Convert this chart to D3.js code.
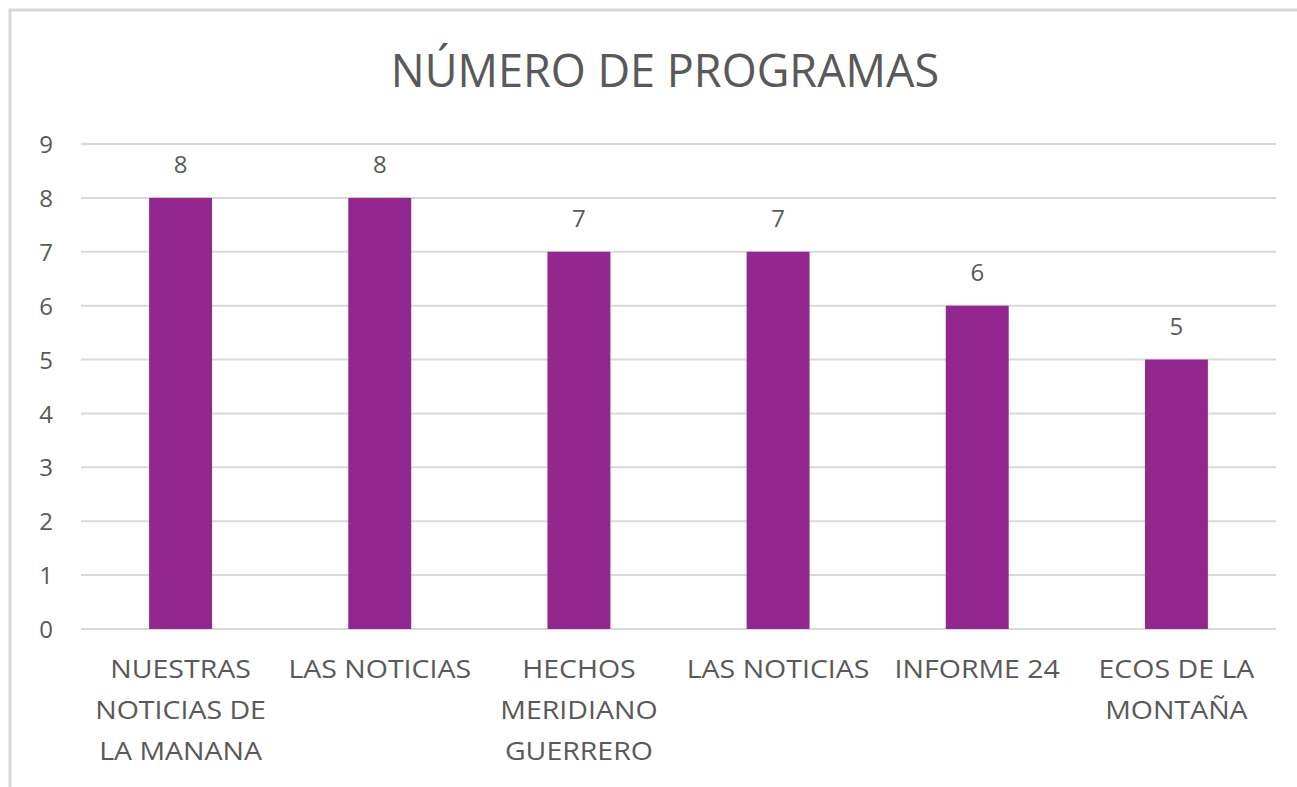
<!DOCTYPE html>
<html>
<head>
<meta charset="utf-8">
<script src="https://cdn.jsdelivr.net/npm/d3@7"></script>
<style>
  html, body { margin: 0; padding: 0; background: #ffffff; }
  svg { display: block; }
  text { font-family: "Open Sans", "Liberation Sans", sans-serif; fill: #595959; }
</style>
</head>
<body>
<svg id="chart" width="1297" height="787"></svg>
<script>
// ---- data ----
const title = "NÚMERO DE PROGRAMAS";
const categories = [
  ["NUESTRAS", "NOTICIAS DE", "LA MANANA"],
  ["LAS NOTICIAS"],
  ["HECHOS", "MERIDIANO", "GUERRERO"],
  ["LAS NOTICIAS"],
  ["INFORME 24"],
  ["ECOS DE LA", "MONTAÑA"]
];
const values = [8, 8, 7, 7, 6, 5];
const yTicks = [0, 1, 2, 3, 4, 5, 6, 7, 8, 9];

// ---- layout ----
const W = 1297, H = 787;
const plot = { left: 81, right: 1276, top: 144, bottom: 629 };
const svg = d3.select("#chart");

// chart frame (extends beyond the picture on right/bottom)
svg.append("rect")
  .attr("x", 10).attr("y", 10)
  .attr("width", W + 20).attr("height", H + 20)
  .attr("fill", "#ffffff")
  .attr("stroke", "#d9d9d9").attr("stroke-width", 3);

const idx = categories.map((d, i) => i);
const x = d3.scaleBand().domain(idx).range([plot.left, plot.right])
  .paddingInner(0.684).paddingOuter(0.342);
const y = d3.scaleLinear().domain([0, 9]).range([plot.bottom, plot.top]);

// gridlines
svg.append("g").selectAll("line").data(yTicks).join("line")
  .attr("x1", plot.left).attr("x2", plot.right)
  .attr("y1", d => y(d)).attr("y2", d => y(d))
  .attr("stroke", "#d9d9d9").attr("stroke-width", 2);

// y axis labels
const yAxis = d3.axisLeft(y).tickValues(yTicks).tickSize(0).tickPadding(0);
const yg = svg.append("g").attr("transform", `translate(53,0)`).call(yAxis);
yg.select(".domain").remove();
yg.selectAll("text")
  .attr("font-size", 24).style("font-family", '"Open Sans", sans-serif')
  .attr("fill", "#595959").attr("dy", "0.36em");

// bars
svg.append("g").selectAll("rect").data(values).join("rect")
  .attr("x", (d, i) => x(i))
  .attr("width", x.bandwidth())
  .attr("y", d => y(d))
  .attr("height", d => y(0) - y(d))
  .attr("fill", "#92278f");

// data labels
svg.append("g").selectAll("text").data(values).join("text")
  .attr("x", (d, i) => x(i) + x.bandwidth() / 2)
  .attr("y", d => y(d) - 25)
  .attr("text-anchor", "middle")
  .attr("font-size", 24)
  .text(d => d);

// category labels (slightly widened to match the reference lettering)
const xg = svg.append("g");
categories.forEach((lines, i) => {
  const cx = x(i) + x.bandwidth() / 2;
  const t = xg.append("text")
    .attr("transform", `translate(${cx},678) scale(1.14,1)`)
    .attr("x", 0).attr("y", 0)
    .attr("text-anchor", "middle")
    .attr("font-size", 25);
  lines.forEach((ln, j) => {
    t.append("tspan")
      .attr("x", 0)
      .attr("dy", j === 0 ? 0 : 41)
      .text(ln);
  });
});

// title
svg.append("text")
  .attr("x", (393 + 937) / 2).attr("y", 87)
  .attr("text-anchor", "middle")
  .attr("font-size", 45)
  .text(title);
</script>
</body>
</html>
